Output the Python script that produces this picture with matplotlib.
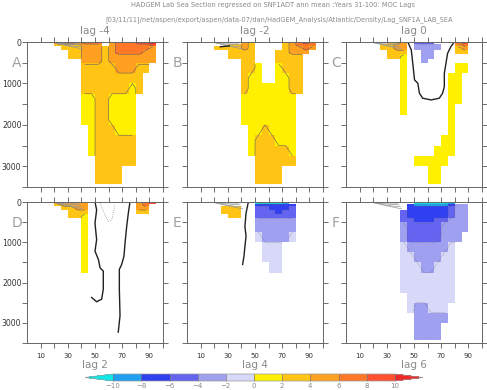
import numpy as np
import matplotlib
matplotlib.use("Agg")
import matplotlib.pyplot as plt
from matplotlib.colors import ListedColormap, BoundaryNorm

# section grid (latitude-ish x, depth in m)
x_edges = np.arange(0, 101, 5)
depth_edges = [0, 50, 100, 200, 300, 400, 500, 750, 1000, 1250, 1500,
               1750, 2000, 2250, 2500, 2750, 3000, 3250, 3420]

levels = [-10, -8, -6, -4, -2, 0, 2, 4, 6, 8, 10]
codes = "abcdefghijkl"
code_values = [-11, -9, -7, -5, -3, -1, 1, 3, 5, 7, 9, 11]
colors = ["#10e8e8", "#20a0f0", "#3040f0", "#6464f0", "#a0a0f0", "#d8d8f8",
          "#fff000", "#ffc414", "#ffa020", "#ff7828", "#ff5030", "#f02828"]

# one character per 5-degree column, one string per depth layer
lag_m4 = [
    "....jjjijjj.ijjjkkl.",
    "....hhhhiii.ijjjjjk.",
    ".....hhhiiihijjjjji.",
    "......hhiiihijjjjii.",
    "......hhiiihiiiiiii.",
    "........iiihiiiiiii.",
    "........hhhhhiiihh..",
    "........hhhhhhhhh...",
    "........hhhhhhhgh...",
    "........gghhgggg....",
    "........gghhgggg....",
    "........gghhgggg....",
    ".........ghhhggg....",
    ".........ghhhhhh....",
    ".........ghhhhhh....",
    "..........hhhhhh....",
    "..........hhhh......",
    "..........hhhh......",
]
lag_m2 = [
    "........ih....hijkj.",
    "......hhih....hijjj.",
    "....hhhhih....hiiji.",
    "......hhhh...hhiii..",
    "......hhhh...hhhh...",
    "........hh...hhhh...",
    "........hhg..ghhh...",
    "........hgg..gghh...",
    "........hgggggghh...",
    "........gggggggg....",
    "........gggggggg....",
    "........gggggggg....",
    ".........gghgggg....",
    ".........ghhhggg....",
    ".........ghhhhhg....",
    "..........hhhhhh....",
    "..........hhhh......",
    "..........hhhh......",
]
lag_0 = [
    "......hhi.ddd...jk..",
    ".....hhii.eeee..ij..",
    ".....hhii.eeee..hi..",
    "......hhh..ee...hh..",
    "......hhg..ee.......",
    "........g..e........",
    "........g.......gg..",
    "........g......gg...",
    "........g......gg...",
    "........g......gg...",
    "........g......g....",
    "...............g....",
    "...............g....",
    "..............gg....",
    ".............ggg....",
    "..........ggggg.....",
    "............gg......",
    "............gg......",
]
lag_2 = [
    "....iiiii.......ijk.",
    "....hiiii.......ij..",
    ".....hhii.......ii..",
    "......hhh.......hh..",
    "......hhg...........",
    "........g...........",
    "........g...........",
    "........g...........",
    "........g...........",
    "........g...........",
    "........g...........",
    "....................",
    "....................",
    "....................",
    "....................",
    "....................",
    "....................",
    "....................",
]
lag_4 = [
    "..........aaaab.....",
    "..........cccccc....",
    ".....hhh..ddcccd....",
    ".....hhh..dddcdd....",
    "......hh..dddddd....",
    "..........eeeeee....",
    "..........eeeeee....",
    "..........feeeef....",
    "...........fff......",
    "...........fff......",
    "............ff......",
    "....................",
    "....................",
    "....................",
    "....................",
    "....................",
    "....................",
    "....................",
]
lag_6 = [
    "..........aaaaab....",
    ".........cbbbbbcee..",
    ".........ccccccdee..",
    "........dccccccdee..",
    "........dccccccdee..",
    "........ddcccddeee..",
    "........edddddeeee..",
    "........edddddeee...",
    "........feeeeeef....",
    "........ffeeeeff....",
    "........fffeefff....",
    "........ffffffff....",
    "........ffffffff....",
    ".........fffffff....",
    ".........feefff.....",
    "..........eeeee.....",
    "..........eeee......",
    "..........eeee......",
]

# thick zero lines (x, depth)
c_zero_x = [45.5, 48, 49.1, 50.4, 52.8, 54, 56.4, 62.5, 68.6, 71, 72.3, 72.3, 73.5, 74.7, 77.1, 79.6]
c_zero_d = [0, 193, 515, 916, 996, 1237, 1357, 1398, 1357, 1237, 1077, 755, 515, 273, 113, 0]
d_zero1_x = [50.0, 51.2, 50.0, 51.2, 50.0, 52.5, 53.7, 56.1, 56.1, 54.9, 51.2, 47.5]
d_zero1_d = [0, 197, 525, 935, 1222, 1427, 1632, 1714, 2165, 2411, 2477, 2370]
d_zero2_x = [75.7, 74.5, 73.3, 72.1, 71.3, 69.6, 67.9, 67.9, 68.4, 67.1]
d_zero2_d = [0, 279, 607, 1017, 1345, 1550, 1673, 2165, 2821, 3230]
e_zero_x = [45.1, 43.4, 42.6, 43.4, 42.6, 41.9, 40.9]
e_zero_d = [0, 279, 607, 853, 1099, 1345, 1550]
b_zero_x = [24.5, 27.5, 31.0]
b_zero_d = [115, 105, 95]
d_neg_x = [53.7, 57.4, 59.8, 62.3, 63.4, 64.7]
d_neg_d = [33, 320, 484, 443, 279, 74]

# thin grey surface contours near the western boundary (same in every panel)
surf_lines = [
    ([14, 22, 30, 38], [0, 15, 25, 30]),
    ([16, 24, 32, 39], [0, 35, 55, 70]),
    ([18, 26, 33, 40], [0, 60, 95, 120]),
    ([20, 28, 35, 41], [0, 80, 130, 170]),
]

panels = [
    ("A", "lag -4", lag_m4, []),
    ("B", "lag -2", lag_m2, [(b_zero_x, b_zero_d)]),
    ("C", "lag 0", lag_0, [(c_zero_x, c_zero_d)]),
    ("D", "lag 2", lag_2, [(d_zero1_x, d_zero1_d), (d_zero2_x, d_zero2_d)]),
    ("E", "lag 4", lag_4, [(e_zero_x, e_zero_d)]),
    ("F", "lag 6", lag_6, []),
]


def decode(rows):
    return np.array([[np.nan if c == "." else code_values[codes.index(c)]
                      for c in row] for row in rows], dtype=float)


W, H = 487, 390
fig = plt.figure(figsize=(W / 100, H / 100), dpi=100)

cmap = ListedColormap(colors[1:-1])
cmap.set_under(colors[0])
cmap.set_over(colors[-1])
norm = BoundaryNorm(levels, cmap.N)

lefts = [27, 187, 346]
rows_px = [(42, 187), (202, 343)]
grey = "#8a8a8a"
xc = 0.5 * (x_edges[:-1] + x_edges[1:])
dc = 0.5 * (np.array(depth_edges[:-1]) + np.array(depth_edges[1:]))

for k, (letter, title, grid_rows, lines) in enumerate(panels):
    r, c = divmod(k, 3)
    top, bot = rows_px[r]
    ax = fig.add_axes([lefts[c] / W, 1 - bot / H, 136 / W, (bot - top) / H])
    z = decode(grid_rows)
    ax.pcolormesh(x_edges, depth_edges, z, cmap=cmap, norm=norm)
    zm = np.ma.masked_invalid(z)
    ax.contour(xc, dc, zm, levels=[2, 4, 6, 8, 10], colors="#606060", linewidths=0.4)
    ax.contour(xc, dc, zm, levels=[-10, -8, -6, -4, -2], colors="#606060",
               linewidths=0.4, linestyles=":")
    for sx, sd in surf_lines:
        ax.plot(sx, sd, color="#9a9a9a", lw=0.5)
    for lx, ld in lines:
        ax.plot(lx, ld, color="#202020", lw=1.0)
    if letter == "D":
        ax.plot(d_neg_x, d_neg_d, color="#909090", lw=0.6, ls=":")
    ax.set_xlim(0, 100)
    ax.set_ylim(3500, 0)
    ax.set_xticks(range(10, 101, 10))
    ax.set_yticks(range(0, 3501, 500))
    ax.tick_params(direction="out", length=3.5, width=0.6, colors="#555555",
                   top=True, right=True, labelsize=5)
    ax.set_xticklabels([str(v) if v % 20 == 10 else "" for v in range(10, 101, 10)],
                       color="#333333")
    if c == 0:
        ax.set_yticklabels([str(v) if v % 1000 == 0 else "" for v in range(0, 3501, 500)],
                           color="#333333", fontsize=5.6)
        ax.tick_params(axis="y", pad=0.5)
    else:
        ax.set_yticklabels([])
    if r == 0:
        ax.set_xticklabels([])
        fig.text((lefts[c] + 68) / W, 1 - 31 / H, title, ha="center", va="center",
                 color=grey, fontsize=7.5)
    else:
        fig.text((lefts[c] + 68) / W, 1 - 365 / H, title, ha="center", va="center",
                 color=grey, fontsize=7.5)
    for sp in ax.spines.values():
        sp.set_color("#666666")
        sp.set_linewidth(0.7)
    fig.text((lefts[c] - 10) / W, 1 - (top + 21) / H, letter, ha="center", va="center",
             color="#a0a0a0", fontsize=10)

fig.text(273 / W, 1 - 5 / H,
         "HADGEM Lab Sea Section regressed on SNF1ADT ann mean :Years 31-100: MOC Lags",
         ha="center", va="center", color=grey, fontsize=4.8)
fig.text(279 / W, 1 - 20 / H,
         "[03/11/11]/net/aspen/export/aspen/data-07/dan/HadGEM_Analysis/Atlantic/Density/Lag_SNF1A_LAB_SEA",
         ha="center", va="center", color=grey, fontsize=4.8)

cax = fig.add_axes([85 / W, 1 - 381 / H, 338 / W, 7 / H])
sm = plt.cm.ScalarMappable(cmap=cmap, norm=norm)
cb = fig.colorbar(sm, cax=cax, orientation="horizontal", extend="both",
                  extendfrac=0.1, drawedges=True, ticks=levels)
cb.outline.set_edgecolor("#999999")
cb.outline.set_linewidth(0.5)
cb.dividers.set_color("#777777")
cb.dividers.set_linewidth(0.5)
cax.tick_params(length=0, labelsize=5, labelcolor=grey, pad=1.5)

fig.savefig("out.png", dpi=100)
